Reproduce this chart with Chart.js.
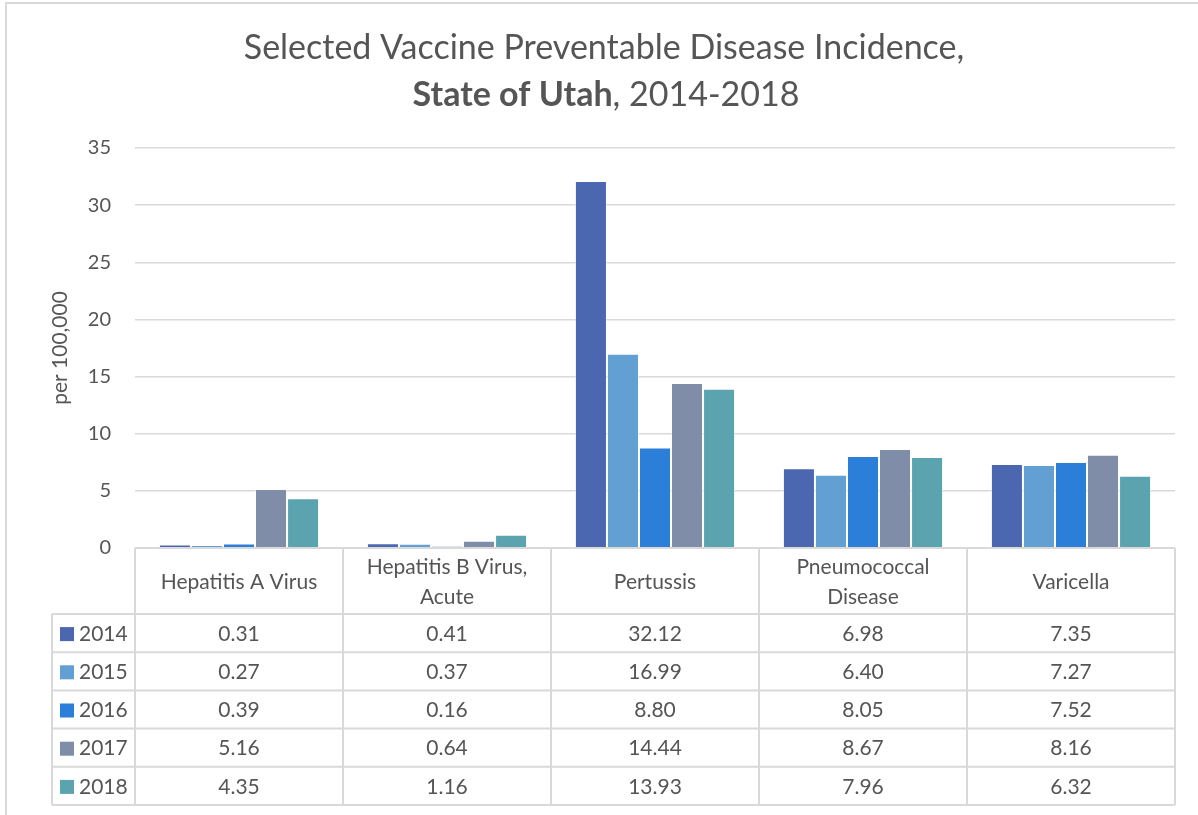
<!DOCTYPE html>
<html>
<head>
<meta charset="utf-8">
<script src="https://cdn.jsdelivr.net/npm/chart.js@4.4.1/dist/chart.umd.min.js"></script>
<style>
  html, body { margin: 0; padding: 0; background: #fff; }
  #wrap { width: 1198px; height: 815px; }
</style>
</head>
<body>
<div id="wrap"><canvas id="chart" width="1198" height="815"></canvas></div>
<script>
const diseases = [['Hepatitis A Virus'], ['Hepatitis B Virus,', 'Acute'], ['Pertussis'], ['Pneumococcal', 'Disease'], ['Varicella']];
const years = ['2014', '2015', '2016', '2017', '2018'];
const rate2014 = [0.31, 0.41, 32.12, 6.98, 7.35];
const rate2015 = [0.27, 0.37, 16.99, 6.40, 7.27];
const rate2016 = [0.39, 0.16, 8.80, 8.05, 7.52];
const rate2017 = [5.16, 0.64, 14.44, 8.67, 8.16];
const rate2018 = [4.35, 1.16, 13.93, 7.96, 6.32];
const yTicks = [0, 5, 10, 15, 20, 25, 30, 35];

const colors = ['#4A67AF', '#629FD2', '#2B7FD8', '#7F8DA8', '#5BA3AE'];
const allRates = [rate2014, rate2015, rate2016, rate2017, rate2018];

const FONT = 'Lato, "Open Sans", sans-serif';
const TEXT = '#555555';
const LINE = '#D9D9D9';

// title, frame and data table under the plot
const extras = {
    id: 'extras',
    beforeDraw(chart) {
        const c = chart.ctx;
        c.save();
        c.strokeStyle = LINE;
        c.lineWidth = 2;
        c.beginPath();
        c.moveTo(1198, 3);
        c.lineTo(6, 3);
        c.lineTo(6, 815);
        c.stroke();
        c.restore();
    },
    afterDraw(chart) {
        const c = chart.ctx;
        const area = chart.chartArea;
        const xs = chart.scales.x;
        const colW = (area.right - area.left) / diseases.length;
        const headTop = area.bottom;
        const headH = 66;
        const rowH = 38.2;
        const legLeft = 52;
        const tableBottom = headTop + headH + rowH * years.length;

        c.save();
        // title
        c.fillStyle = TEXT;
        c.textBaseline = 'middle';
        c.textAlign = 'center';
        c.font = '34px ' + FONT;
        c.fillText('Selected Vaccine Preventable Disease Incidence,', 604, 48);
        const boldPart = 'State of Utah';
        const restPart = ', 2014-2018';
        c.font = 'bold 34px ' + FONT;
        const wb = c.measureText(boldPart).width;
        c.font = '34px ' + FONT;
        const wr = c.measureText(restPart).width;
        const start = 606 - (wb + wr) / 2;
        c.textAlign = 'left';
        c.font = 'bold 34px ' + FONT;
        c.fillText(boldPart, start, 95);
        c.font = '34px ' + FONT;
        c.fillText(restPart, start + wb, 95);

        // grid of the table
        c.strokeStyle = LINE;
        c.lineWidth = 2;
        c.beginPath();
        c.moveTo(area.left, headTop);
        c.lineTo(area.right, headTop);
        for (let r = 0; r <= years.length; r++) {
            const y = headTop + headH + rowH * r;
            c.moveTo(legLeft, y);
            c.lineTo(area.right, y);
        }
        c.moveTo(legLeft, headTop + headH);
        c.lineTo(legLeft, tableBottom);
        for (let i = 0; i <= diseases.length; i++) {
            const x = area.left + colW * i;
            c.moveTo(x, headTop);
            c.lineTo(x, tableBottom);
        }
        c.stroke();

        // header labels
        c.fillStyle = TEXT;
        c.textAlign = 'center';
        c.font = '21px ' + FONT;
        diseases.forEach((lines, i) => {
            const x = xs.getPixelForValue(i);
            const mid = headTop + headH / 2 + 1;
            const lh = 30;
            lines.forEach((t, k) => {
                c.fillText(t, x, mid + (k - (lines.length - 1) / 2) * lh);
            });
        });

        // rows
        years.forEach((yr, r) => {
            const y = headTop + headH + rowH * r + rowH / 2 + 1;
            c.fillStyle = colors[r];
            c.fillRect(60, y - 7, 14, 14);
            c.fillStyle = TEXT;
            c.textAlign = 'left';
            c.fillText(yr, 79, y);
            c.textAlign = 'center';
            allRates[r].forEach((v, i) => {
                c.fillText(v.toFixed(2), xs.getPixelForValue(i), y);
            });
        });
        c.restore();
    }
};

const datasets = years.map((yr, r) => ({
    label: yr,
    data: allRates[r],
    backgroundColor: colors[r],
    borderColor: 'rgba(255,255,255,0.45)',
    borderWidth: 1,
    barPercentage: 1,
    categoryPercentage: 0.77
}));

new Chart(document.getElementById('chart'), {
    type: 'bar',
    data: {
        labels: diseases.map(d => d.join(' ')),
        datasets: datasets
    },
    options: {
        responsive: false,
        animation: false,
        devicePixelRatio: 1,
        layout: { padding: { top: 148, bottom: 267, left: 0, right: 23 } },
        plugins: {
            legend: { display: false },
            tooltip: { enabled: false },
            title: { display: false }
        },
        scales: {
            x: { display: false },
            y: {
                min: 0,
                max: 35,
                afterFit: s => { s.width = 135; },
                afterBuildTicks: s => { s.ticks = yTicks.map(v => ({ value: v })); },
                border: { display: false },
                grid: { color: LINE, lineWidth: 1.5, drawTicks: false },
                ticks: { color: TEXT, padding: 24, font: { family: FONT, size: 20 } },
                title: {
                    display: true,
                    text: 'per 100,000',
                    color: TEXT,
                    font: { family: FONT, size: 21 },
                    padding: { top: 48, bottom: 0 }
                }
            }
        }
    },
    plugins: [extras]
});
</script>
</body>
</html>
